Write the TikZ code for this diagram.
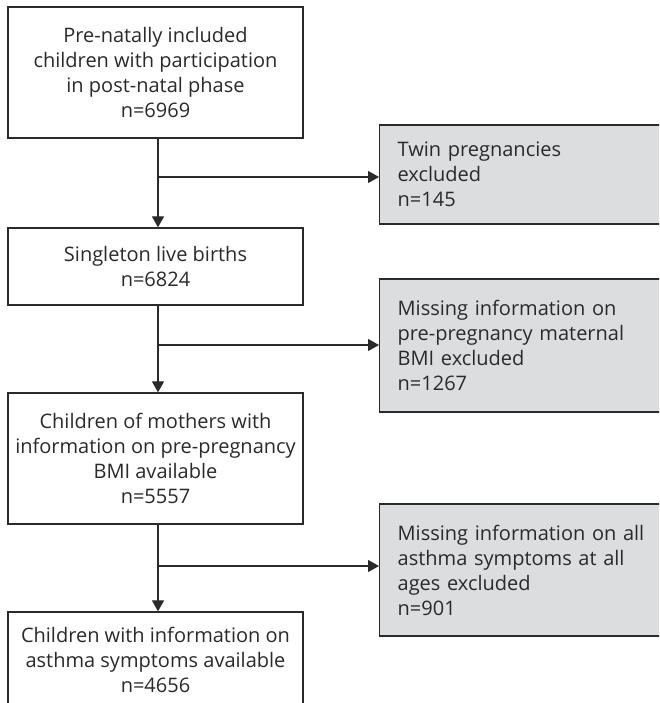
\documentclass[tikz,border=0pt]{standalone}
\usepackage{fontspec}
\setmainfont{Open Sans}
\usetikzlibrary{arrows.meta}
\definecolor{ink}{HTML}{2A2A2A}
\definecolor{boxgray}{HTML}{DCDDDF}
\begin{document}
\begin{tikzpicture}[x=1pt,y=-1pt,
  every node/.style={font=\fontsize{20}{25}\selectfont, text=ink},
  mainbox/.style={draw=ink, line width=1.3pt, fill=white, minimum width=295pt, align=center, inner sep=0pt},
  exclbox/.style={draw=ink, line width=1.3pt, fill=boxgray, minimum width=291pt, text width=255pt, align=left, inner xsep=18pt, inner ysep=0pt, anchor=west},
  flow/.style={draw=ink, line width=1.2pt, -{Triangle[length=11pt,width=12pt]}}
]
\useasboundingbox (0,0) rectangle (659,703);
\clip (0,0) rectangle (659,703);
\coordinate (c) at (158,0);
\node[mainbox, minimum height=131pt] (n1) at (155.5,72.5) {Pre-natally included\\children with participation\\in post-natal phase\\n=6969};
\node[mainbox, minimum height=77pt] (n2) at (155.5,266.5) {Singleton live births\\n=6824};
\node[mainbox, minimum height=131pt] (n3) at (155.5,458.5) {Children of mothers with\\information on pre-pregnancy\\BMI available\\n=5557};
\node[mainbox, minimum height=96pt] (n4) at (155.5,660) {Children with information on\\asthma symptoms available\\n=4656};
\node[exclbox, minimum height=99pt] (e1) at (379,174.5) {Twin pregnancies\\excluded\\n=145};
\node[exclbox, minimum height=133pt] (e2) at (379,345.5) {Missing information on\\pre-pregnancy maternal\\BMI excluded\\n=1267};
\node[exclbox, minimum height=132pt] (e3) at (379,570) {Missing information on all\\asthma symptoms at all\\ages excluded\\n=901};
\coordinate (j1) at (158,177);
\coordinate (j2) at (158,345);
\coordinate (j3) at (158,566);
\draw[flow] (n1.south -| c) -- (n2.north -| c);
\draw[flow] (n2.south -| c) -- (n3.north -| c);
\draw[flow] (n3.south -| c) -- (n4.north -| c);
\draw[flow] (j1) -- (j1 -| e1.west);
\draw[flow] (j2) -- (j2 -| e2.west);
\draw[flow] (j3) -- (j3 -| e3.west);
\end{tikzpicture}
\end{document}
